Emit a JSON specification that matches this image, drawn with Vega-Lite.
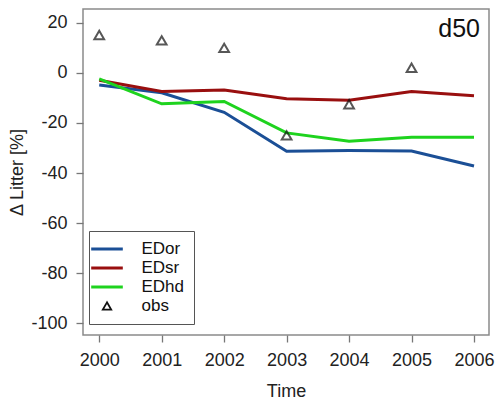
{
  "$schema": "https://vega.github.io/schema/vega-lite/v6.json",
  "width": 406,
  "height": 326,
  "autosize": {"type": "none"},
  "padding": {"left": 83, "top": 9, "right": 6, "bottom": 64},
  "background": "white",
  "title": {
    "text": "d50",
    "orient": "top",
    "anchor": "end",
    "frame": "group",
    "baseline": "top",
    "offset": 0,
    "dx": -9,
    "dy": 33,
    "font": "Liberation Sans",
    "fontSize": 25,
    "fontWeight": "normal",
    "color": "#111"
  },
  "config": {
    "view": {"stroke": "#8a8a8a", "strokeWidth": 1.5},
    "font": "Liberation Sans",
    "axis": {
      "grid": false,
      "domain": false,
      "tickColor": "#777",
      "tickWidth": 1.3,
      "tickSize": 7,
      "labelFont": "Liberation Sans",
      "labelFontSize": 18,
      "labelColor": "#222",
      "titleFont": "Liberation Sans",
      "titleFontSize": 18,
      "titleFontWeight": "normal",
      "titleColor": "#222"
    }
  },
  "data": {
    "values": [
      {"year": 2000, "value": -4.9, "series": "EDor"},
      {"year": 2001, "value": -8.0, "series": "EDor"},
      {"year": 2002, "value": -15.8, "series": "EDor"},
      {"year": 2003, "value": -31.3, "series": "EDor"},
      {"year": 2004, "value": -31.0, "series": "EDor"},
      {"year": 2005, "value": -31.2, "series": "EDor"},
      {"year": 2006, "value": -37.2, "series": "EDor"},
      {"year": 2000, "value": -3.0, "series": "EDsr"},
      {"year": 2001, "value": -7.5, "series": "EDsr"},
      {"year": 2002, "value": -6.9, "series": "EDsr"},
      {"year": 2003, "value": -10.4, "series": "EDsr"},
      {"year": 2004, "value": -11.0, "series": "EDsr"},
      {"year": 2005, "value": -7.5, "series": "EDsr"},
      {"year": 2006, "value": -9.2, "series": "EDsr"},
      {"year": 2000, "value": -2.5, "series": "EDhd"},
      {"year": 2001, "value": -12.4, "series": "EDhd"},
      {"year": 2002, "value": -11.5, "series": "EDhd"},
      {"year": 2003, "value": -24.0, "series": "EDhd"},
      {"year": 2004, "value": -27.3, "series": "EDhd"},
      {"year": 2005, "value": -25.7, "series": "EDhd"},
      {"year": 2006, "value": -25.7, "series": "EDhd"},
      {"year": 2000, "value": 15.0, "series": "obs"},
      {"year": 2001, "value": 12.9, "series": "obs"},
      {"year": 2002, "value": 9.9, "series": "obs"},
      {"year": 2003, "value": -25.0, "series": "obs"},
      {"year": 2004, "value": -12.6, "series": "obs"},
      {"year": 2005, "value": 2.0, "series": "obs"}
    ]
  },
  "encoding": {
    "x": {
      "field": "year",
      "type": "quantitative",
      "scale": {"domain": [1999.74, 2006.24], "nice": false, "zero": false},
      "axis": {
        "values": [2000, 2001, 2002, 2003, 2004, 2005, 2006],
        "format": "d",
        "labelPadding": 9,
        "title": "Time",
        "titlePadding": 13
      }
    },
    "y": {
      "field": "value",
      "type": "quantitative",
      "scale": {"domain": [-104.6, 25.4], "nice": false, "zero": false},
      "axis": {
        "values": [-100, -80, -60, -40, -20, 0, 20],
        "labelExpr": "'' + datum.value",
        "labelPadding": 9,
        "title": "Δ Litter [%]",
        "titlePadding": 4
      }
    },
    "color": {
      "field": "series",
      "type": "nominal",
      "scale": {
        "domain": ["EDor", "EDsr", "EDhd", "obs"],
        "range": ["#1b4f96", "#990f0f", "#1ed31e", "#111111"]
      },
      "legend": {
        "title": null,
        "orient": "none",
        "legendX": 6,
        "legendY": 222,
        "padding": 9.5,
        "strokeColor": "#555",
        "fillColor": "white",
        "labelFont": "Liberation Sans",
        "labelFontSize": 17,
        "labelColor": "#111",
        "labelOffset": 26,
        "rowPadding": 1,
        "symbolSize": 1000,
        "encode": {
          "symbols": {
            "update": {
              "shape": {"signal": "datum.value === 'obs' ? 'triangle-up' : 'stroke'"},
              "size": {"signal": "datum.value === 'obs' ? 70 : 1000"},
              "strokeWidth": {"signal": "datum.value === 'obs' ? 1.8 : 3"},
              "stroke": {"scale": "color", "field": "value"},
              "fill": {"value": "transparent"}
            }
          }
        }
      }
    }
  },
  "layer": [
    {
      "transform": [{"filter": "datum.series !== 'obs'"}],
      "mark": {"type": "line", "strokeWidth": 3}
    },
    {
      "transform": [{"filter": "datum.series === 'obs'"}],
      "mark": {"type": "point", "shape": "triangle-up", "filled": false, "strokeWidth": 2, "size": 95}
    }
  ]
}
